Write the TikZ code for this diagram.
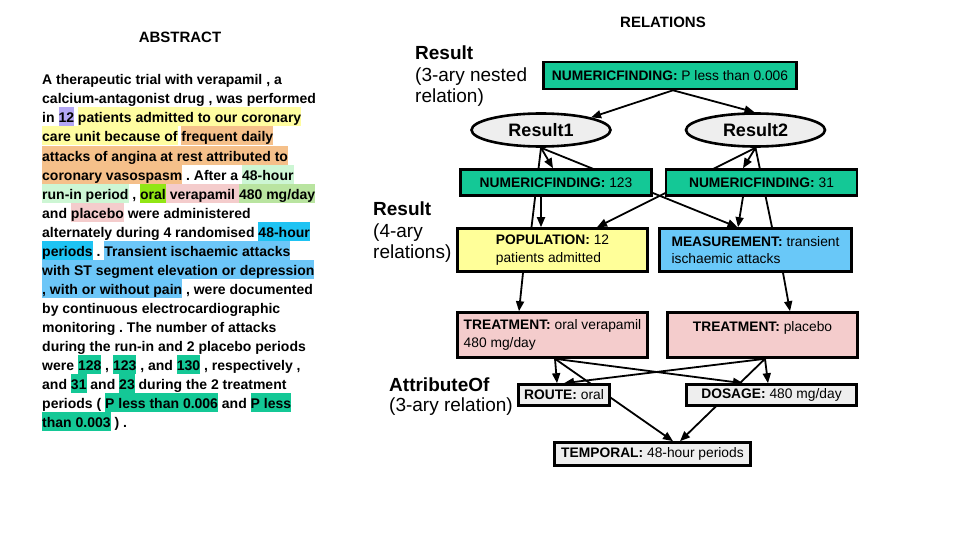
\documentclass[tikz,border=0pt]{standalone}
\usepackage{fontspec}
\setmainfont{Liberation Sans}
\usetikzlibrary{shapes.geometric,arrows.meta,backgrounds,calc}
\frenchspacing
\definecolor{hpurple}{RGB}{180,167,245}
\definecolor{hyellow}{RGB}{255,253,160}
\definecolor{horange}{RGB}{245,192,138}
\definecolor{hmint}{RGB}{205,246,212}
\definecolor{hlime}{RGB}{145,230,20}
\definecolor{hpink}{RGB}{244,204,204}
\definecolor{hgreen}{RGB}{185,228,160}
\definecolor{hcyan}{RGB}{30,195,243}
\definecolor{hblue}{RGB}{108,198,248}
\definecolor{hteal}{RGB}{20,200,150}
\definecolor{popc}{RGB}{255,255,153}
\definecolor{measc}{RGB}{105,200,248}
\definecolor{lgray}{RGB}{238,238,238}
\newcommand{\hlt}[2]{{\setlength{\fboxsep}{0pt}\colorbox{#1}{\rule[-3.5pt]{0pt}{19pt}#2}}}
\tikzset{
  absline/.style={anchor=base west, inner sep=0pt, font=\fontsize{14}{19}\selectfont\bfseries},
  ttl/.style={anchor=base, inner sep=0pt, font=\fontsize{15}{18}\selectfont\bfseries},
  rlabb/.style={anchor=base west, inner sep=0pt, font=\fontsize{19}{21}\selectfont\bfseries},
  rlab/.style={anchor=base west, inner sep=0pt, font=\fontsize{19}{21}\selectfont},
  rbox/.style={draw, line width=2.6pt, inner sep=0pt, align=left, font=\fontsize{13.8}{17.5}\selectfont},
  rell/.style={ellipse, draw, line width=2.6pt, fill=lgray, inner sep=0pt, minimum width=139pt, minimum height=33pt, font=\fontsize{18}{21}\selectfont\bfseries},
  conn/.style={line width=1.8pt, -{Triangle[length=10pt,width=8pt]}},
  plain/.style={line width=1.8pt}
}
\begin{document}
\begin{tikzpicture}[x=1pt,y=-1pt]
\useasboundingbox (0,0) rectangle (960,540);
% titles
\node[ttl] (tabs) at (180,43) {ABSTRACT};
\node[ttl] (trel) at (663,28) {RELATIONS};
% abstract
\node[absline] (ab0) at (42,85) {A therapeutic trial with verapamil , a};
\node[absline] (ab1) at (42,104) {calcium-antagonist drug , was performed};
\node[absline] (ab2) at (42,123) {in \hlt{hpurple}{12} \hlt{hyellow}{patients admitted to our coronary}};
\node[absline] (ab3) at (42,142) {\hlt{hyellow}{care unit because of} \hlt{horange}{frequent daily}};
\node[absline] (ab4) at (42,161) {\hlt{horange}{attacks of angina at rest attributed to}};
\node[absline] (ab5) at (42,180) {\hlt{horange}{coronary vasospasm} . After a \hlt{hmint}{48-hour}};
\node[absline] (ab6) at (42,199) {\hlt{hmint}{run-in period} , \hlt{hlime}{oral}\hlt{hpink}{ verapamil }\hlt{hgreen}{480 mg/day}};
\node[absline] (ab7) at (42,218) {and \hlt{hpink}{placebo} were administered};
\node[absline] (ab8) at (42,237) {alternately during 4 randomised \hlt{hcyan}{48-hour}};
\node[absline] (ab9) at (42,256) {\hlt{hcyan}{periods} . \hlt{hblue}{Transient ischaemic attacks}};
\node[absline] (ab10) at (42,275) {\hlt{hblue}{with ST segment elevation or depression}};
\node[absline] (ab11) at (42,294) {\hlt{hblue}{, with or without pain} , were documented};
\node[absline] (ab12) at (42,313) {by continuous electrocardiographic};
\node[absline] (ab13) at (42,332) {monitoring . The number of attacks};
\node[absline] (ab14) at (42,351) {during the run-in and 2 placebo periods};
\node[absline] (ab15) at (42,370) {were \hlt{hteal}{128} , \hlt{hteal}{123} , and \hlt{hteal}{130} , respectively ,};
\node[absline] (ab16) at (42,389) {and \hlt{hteal}{31} and \hlt{hteal}{23} during the 2 treatment};
\node[absline] (ab17) at (42,408) {periods ( \hlt{hteal}{P less than 0.006} and \hlt{hteal}{P less}};
\node[absline] (ab18) at (42,427) {\hlt{hteal}{than 0.003} ) .};
% relation labels
\node[rlabb] (la1) at (415,60) {Result};
\node[rlab] (la2) at (415,82) {(3-ary nested};
\node[rlab] (la3) at (415,103) {relation)};
\node[rlabb] (lb1) at (373,215) {Result};
\node[rlab] (lb2) at (373,237) {(4-ary};
\node[rlab] (lb3) at (373,258) {relations)};
\node[rlabb] (lc1) at (389,391) {AttributeOf};
\node[rlab] (lc2) at (389,411) {(3-ary relation)};
% boxes
\node[rbox, fill=hteal, minimum width=253pt, minimum height=27pt] (nftop) at (670,75.5) {\textbf{NUMERICFINDING:} P less than 0.006};
\node[rell] (r1) at (541,130) {Result1};
\node[rell] (r2) at (755.5,130) {Result2};
\node[rbox, fill=hteal, minimum width=191pt, minimum height=26pt] (nf1) at (556,182.5) {\textbf{NUMERICFINDING:} 123};
\node[rbox, fill=hteal, minimum width=191pt, minimum height=26pt] (nf2) at (761.5,182.5) {\textbf{NUMERICFINDING:} 31};
\node[rbox, fill=popc, minimum width=190pt, minimum height=43pt] (pop) at (552.5,250) {\textbf{POPULATION:} 12\\patients admitted};
\node[rbox, fill=measc, minimum width=192pt, minimum height=43pt] (meas) at (755.5,250) {\textbf{MEASUREMENT:} transient\\ischaemic attacks};
\node[rbox, fill=hpink, minimum width=190pt, minimum height=45pt] (tr1) at (552.5,335) {\textbf{TREATMENT:} oral verapamil\\480 mg/day};
\node[rbox, fill=hpink, minimum width=190pt, minimum height=45pt] (tr2) at (762.5,335) {\textbf{TREATMENT:} placebo\\\mbox{}};
\node[rbox, fill=lgray, minimum width=91pt, minimum height=21pt] (route) at (564,395) {\textbf{ROUTE:} oral};
\node[rbox, fill=lgray, minimum width=170pt, minimum height=21pt] (dose) at (771.5,395) {\textbf{DOSAGE:} 480 mg/day};
\node[rbox, fill=lgray, minimum width=196pt, minimum height=23pt] (temp) at (652.5,454) {\textbf{TEMPORAL:} 48-hour periods};
% connectors
\begin{scope}[on background layer]
\draw[conn] ($(nftop.south)+(3,0)$) -- (r1.north east);
\draw[conn] ($(nftop.south)+(3,0)$) -- ($(r2.north)+(-1,0)$);
\draw[conn] (r1.south) -- ($(nf1.north)+(-3,0)$);
\draw[plain] (r1.south) -- ($(pop.north)+(-21,0)$);
\draw[conn] (r1.south) -- ($(meas.north)+(-18,0)$);
\draw[conn] ($(nf1.south)+(-15,0)$) -- ($(pop.north)+(-11.5,0)$);
\draw[conn] (r2.south) -- ($(nf2.north)+(-18.5,0)$);
\draw[conn] (r2.south) -- ($(pop.north)+(44.5,0)$);
\draw[plain] (r2.south) -- ($(meas.north)+(16.5,0)$);
\draw[conn] ($(nf2.south)+(-18.5,0)$) -- ($(meas.north)+(-17.5,0)$);
\draw[conn] ($(pop.south)+(-29.5,0)$) -- ($(tr1.north)+(-33.5,0)$);
\draw[conn] ($(meas.south)+(27.5,0)$) -- ($(tr2.north)+(27.5,0)$);
\draw[conn] ($(tr1.south)+(2.5,0)$) -- ($(route.north)+(-7,0)$);
\draw[conn] ($(tr1.south)+(2.5,0)$) -- ($(temp.north)+(20.5,0)$);
\draw[conn] ($(tr1.south)+(2.5,0)$) -- ($(dose.north)+(-28.5,0)$);
\draw[conn] ($(tr2.south)+(2.5,0)$) -- ($(route.north)+(0,0)$);
\draw[conn] ($(tr2.south)+(2.5,0)$) -- ($(dose.north)+(-3.5,0)$);
\draw[conn] ($(tr2.south)+(2.5,0)$) -- ($(temp.north)+(27.5,0)$);
\end{scope}
\end{tikzpicture}
\end{document}
